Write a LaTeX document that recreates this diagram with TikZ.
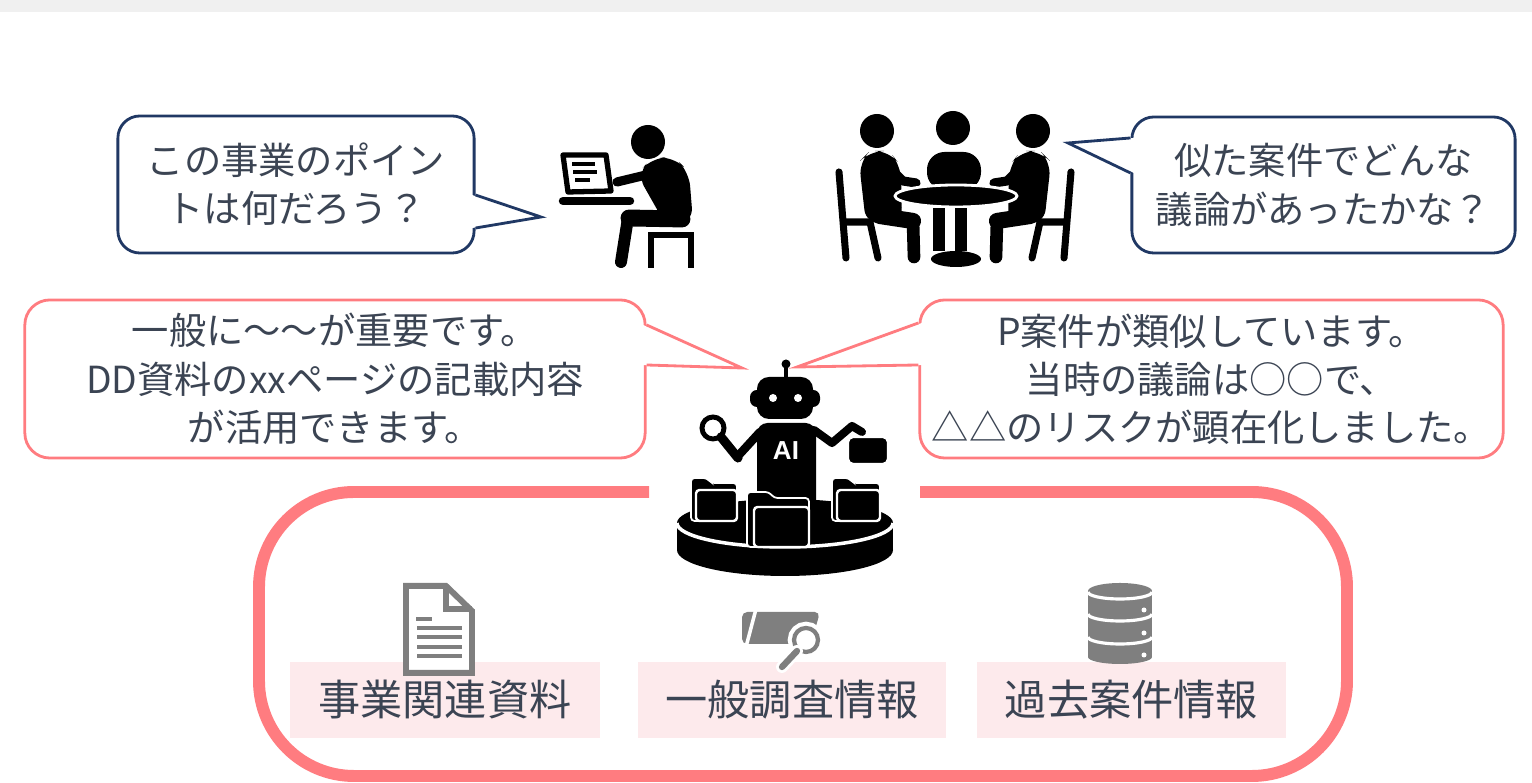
\documentclass[tikz,border=0pt]{standalone}
\usepackage{fontspec}
\usepackage{tikz}
\usetikzlibrary{calc}
\usepackage{xcolor}
\newfontfamily\jpfont{Noto Sans CJK JP}
\newfontfamily\aifont{Liberation Sans}
\definecolor{navy}{HTML}{203864}
\definecolor{salmon}{HTML}{FF7C80}
\definecolor{txt}{HTML}{3B4453}
\definecolor{srcfill}{HTML}{FDEAEC}
\definecolor{icongray}{HTML}{7F7F7F}
\definecolor{topband}{HTML}{F0F0F0}

\begin{document}
\begin{tikzpicture}[x=0.01cm, y=-0.01cm,
    ask/.style={draw=navy, line width=0.8pt, rounded corners=0.22cm, fill=white, align=center,
        text=txt, inner sep=0pt, font=\jpfont\fontsize{10.6}{13.7}\selectfont},
    answer/.style={ask, draw=salmon, rounded corners=0.25cm},
    source/.style={fill=srcfill, minimum height=0.75cm, inner sep=0pt, text=txt,
        font=\jpfont\fontsize{12}{14}\selectfont},
    icon/.style={draw=icongray, line width=1.7pt},
    body/.style={draw=black, line cap=round, line join=round}]
    \useasboundingbox (0,0) rectangle (1532,783);
    \fill[topband] (0,0) rectangle (1532,12);

    % questions
    \node[ask, minimum width=3.56cm, minimum height=1.37cm] (askL) at (296,184.5) {この事業のポイン\\トは何だろう？};
    \coordinate (askLtip) at (541,217);
    \fill[white] ([xshift=-1pt, yshift=-0.105cm]askL.east) -- (askLtip) -- ([xshift=-1pt, yshift=-0.435cm]askL.east) -- cycle;
    \draw[navy, line width=0.8pt] ([yshift=-0.105cm]askL.east) -- (askLtip) -- ([yshift=-0.435cm]askL.east);

    \node[ask, minimum width=3.83cm, minimum height=1.36cm] (askR) at (1323.5,185) {似た案件でどんな\\議論があったかな？};
    \coordinate (askRtip) at (1068,143);
    \fill[white] ([xshift=1pt, yshift=0.47cm]askR.west) -- (askRtip) -- ([xshift=1pt, yshift=0.12cm]askR.west) -- cycle;
    \draw[navy, line width=0.8pt] ([yshift=0.47cm]askR.west) -- (askRtip) -- ([yshift=0.12cm]askR.west);

    % answers
    \node[answer, minimum width=6.2cm, minimum height=1.58cm] (ansL) at (335,379) {一般に～～が重要です。\\DD資料のxxページの記載内容\\が活用できます。};
    \coordinate (ansLtip) at (742,368);
    \fill[white] ([xshift=-1pt, yshift=0.54cm]ansL.east) -- (ansLtip) -- ([xshift=-1pt, yshift=0.14cm]ansL.east) -- cycle;
    \draw[salmon, line width=0.8pt] ([yshift=0.54cm]ansL.east) -- (ansLtip) -- ([yshift=0.14cm]ansL.east);

    \node[answer, minimum width=5.83cm, minimum height=1.58cm] (ansR) at (1211.5,379) {P案件が類似しています。\\当時の議論は○○で、\\△△のリスクが顕在化しました。};
    \coordinate (ansRtip) at (797,367);
    \fill[white] ([xshift=1pt, yshift=0.56cm]ansR.west) -- (ansRtip) -- ([xshift=1pt, yshift=0.14cm]ansR.west) -- cycle;
    \draw[salmon, line width=0.8pt] ([yshift=0.56cm]ansR.west) -- (ansRtip) -- ([yshift=0.14cm]ansR.west);

    % person at the laptop
    \fill (648,142) circle [radius=17];
    \fill[rounded corners=4pt] (637,174) -- (652,158) -- (674,157) -- (689,172) -- (693,222) -- (667,227) -- cycle;
    \draw[body, line width=2.6pt] (646,175) -- (617,182);
    \draw[body, line width=4.8pt] (682,219) -- (629,218);
    \draw[body, line width=3.4pt] (628,218) -- (621,262);
    \draw[line width=1.9pt] (651,268) -- (651,235) -- (691,235) -- (691,268);
    \draw[line width=1.5pt, line join=round] (563,155) -- (606,155) -- (611,191) -- (568,192) -- cycle;
    \draw[line width=1.2pt] (572,164) -- (595,164) (573,172) -- (597,172) (575,180) -- (590,180);
    \draw[body, line width=2.4pt] (563,201) -- (630,201);

    % meeting at the round table
    \fill (953,128) circle [radius=17];
    \fill[rounded corners=5pt] (927,190) rectangle (981,152);
    \foreach \side in {1,-1} {
        \begin{scope}[shift={({955-955*\side},0)}, xscale=\side]
            \fill (877,131) circle [radius=17];
            \fill[rounded corners=4pt] (859,162) -- (870,151) -- (889,151) -- (901,166) -- (902,222) -- (866,224) -- cycle;
            \draw[body, line width=2.6pt] (888,166) -- (903,181) -- (916,183);
            \draw[body, line width=4.6pt] (880,216) -- (913,221);
            \draw[body, line width=3.6pt] (913,221) -- (914,257);
            \draw[body, line width=2pt] (839,172) -- (846,258);
            \draw[body, line width=2pt] (846,222) -- (870,222) -- (878,258);
        \end{scope}
    }
    \filldraw[draw=white, line width=0.8pt] (956,196) ellipse [x radius=61, y radius=11];
    \fill (933,208) rectangle (945,251);
    \fill (955,208) rectangle (967,251);
    \fill (956,259) ellipse [x radius=25, y radius=8];

    % robot on its platform
    \fill (785,550) ellipse [x radius=108, y radius=26];
    \fill (677,523) rectangle (893,550);
    \fill (785,523) ellipse [x radius=108, y radius=24];
    \draw[white, line width=1pt] (677,523) arc [start angle=180, end angle=0, x radius=108, y radius=24];
    \fill (786,364) circle [radius=4.5];
    \draw[line width=1pt] (786,364) -- (786,378);
    \fill[rounded corners=2pt] (750,390) rectangle (820,407);
    \fill[rounded corners=3.4pt] (757,377) rectangle (813,419);
    \fill[white] (773,398) circle [radius=4] (798,398) circle [radius=4];
    \fill[rounded corners=3pt] (757,423) rectangle (816,522);
    \node[text=white, font=\aifont\bfseries\fontsize{7.4}{8}\selectfont, inner sep=0pt] (ai) at (786,451) {AI};
    \draw[body, line width=2.4pt] (760,432) -- (738,456);
    \draw[line width=1.4pt] (713,428) circle [radius=11];
    \draw[body, line width=2.6pt] (721,437) -- (738,458);
    \draw[body, line width=2.3pt] (814,430) -- (832,443) -- (852,426) -- (862,432);
    \filldraw[draw=white, line width=0.6pt, rounded corners=1.5pt] (848,437) rectangle (888,464);
    % folders on the platform
    \filldraw[draw=white, line width=0.5pt, rounded corners=1pt] (691,478) -- (707,478) -- (711,483) -- (737,483) -- (737,521) -- (691,521) -- cycle;
    \filldraw[draw=white, line width=0.7pt, rounded corners=1pt] (696,490) rectangle (737,521);
    \filldraw[draw=white, line width=0.5pt, rounded corners=1pt] (832,478) -- (849,478) -- (853,483) -- (880,483) -- (880,521) -- (832,521) -- cycle;
    \filldraw[draw=white, line width=0.7pt, rounded corners=1pt] (837,490) rectangle (880,521);
    \filldraw[draw=white, line width=0.5pt, rounded corners=1pt] (747,492) -- (769,492) -- (774,498) -- (809,498) -- (809,547) -- (747,547) -- cycle;
    \filldraw[draw=white, line width=0.7pt, rounded corners=1pt] (754,507) rectangle (809,547);

    % frame round the sources
    \draw[salmon, line width=3.4pt, rounded corners=0.95cm] (649,492) -- (259,492) -- (259,776) -- (1347,776) -- (1347,492) -- (920,492);

    % sources
    \node[source, minimum width=3.1cm] (docs) at (445,700) {事業関連資料};
    \node[source, minimum width=3.08cm] (survey) at (792,700) {一般調査情報};
    \node[source, minimum width=3.09cm] (cases) at (1131.5,700) {過去案件情報};

    % document icon
    \filldraw[icon, fill=white] (406,586) -- (446,586) -- (472,611) -- (472,673) -- (406,673) -- cycle;
    \draw[icon] (446,586) -- (446,609) -- (472,609);
    \draw[icongray, line width=1.2pt] (416,619) -- (432,619) (417,628) -- (462,628) (417,637) -- (462,637)
        (417,647) -- (462,647) (417,656) -- (462,656);

    % folder with magnifier
    \fill[icongray, rounded corners=1.5pt] (742,612) -- (820,612) -- (811,644) -- (742,644) -- cycle;
    \draw[white, line width=1pt] (756,609) -- (746,647);
    \draw[white, line width=3pt] (806,640) circle [radius=13];
    \filldraw[fill=white, draw=icongray, line width=1.2pt] (806,640) circle [radius=12];
    \draw[white, line width=3.4pt, line cap=round] (797,651) -- (782,667);
    \draw[icongray, line width=1.8pt, line cap=round] (797,651) -- (782,667);

    % database icon
    \fill[icongray] (1120,657) ellipse [x radius=32, y radius=7];
    \fill[icongray] (1088,591) rectangle (1152,657);
    \fill[icongray] (1120,591) ellipse [x radius=32, y radius=8];
    \draw[white, line width=0.9pt] (1088,592) arc [start angle=180, end angle=0, x radius=32, y radius=7]
        (1088,614) arc [start angle=180, end angle=0, x radius=32, y radius=7]
        (1088,637) arc [start angle=180, end angle=0, x radius=32, y radius=7];
    \fill[white] (1144,610) circle [radius=2.5] (1144,633) circle [radius=2.5] (1144,655) circle [radius=2.5];
\end{tikzpicture}
\end{document}
